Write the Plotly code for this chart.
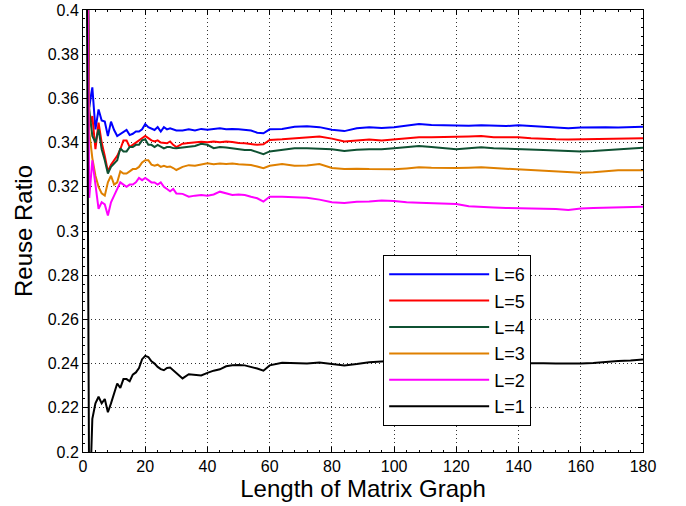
import plotly.graph_objects as go

# x positions (length of matrix graph)
x_early = list(range(1, 31))
x_mid = list(range(32, 61, 2))
x_late = list(range(64, 181, 4))
x_vals = x_early + x_mid + x_late

l6 = [0.5, 0.356, 0.365, 0.346, 0.355, 0.350, 0.3495, 0.343, 0.3495, 0.3457,
      0.343, 0.344, 0.345, 0.3457, 0.3434, 0.344, 0.345, 0.345, 0.346, 0.3484,
      0.347, 0.3465, 0.3457, 0.347, 0.345, 0.347, 0.346, 0.3465, 0.346, 0.3455,
      0.3455, 0.346, 0.3455, 0.3462, 0.3458, 0.346, 0.3465, 0.346, 0.3462, 0.346,
      0.3458, 0.3455, 0.3445, 0.3442, 0.346,
      0.3462, 0.3472, 0.3474, 0.347, 0.3458, 0.3452, 0.3465, 0.347, 0.3466, 0.347,
      0.3478, 0.3484, 0.348, 0.3478, 0.3478, 0.3476, 0.3478, 0.3475, 0.3475, 0.3478,
      0.3474, 0.3472, 0.3468, 0.3465, 0.3468, 0.347, 0.347, 0.3468, 0.347, 0.3472]

l5 = [0.5, 0.347, 0.352, 0.337, 0.349, 0.340, 0.334, 0.327, 0.330, 0.332,
      0.334, 0.337, 0.341, 0.341, 0.338, 0.339, 0.340, 0.341, 0.342, 0.343,
      0.342, 0.341, 0.3405, 0.341, 0.340, 0.340, 0.3397, 0.3405, 0.339, 0.338,
      0.3395, 0.3398, 0.3402, 0.3404, 0.3402, 0.3405, 0.3402, 0.3405, 0.3403, 0.3398,
      0.3397, 0.3394, 0.339, 0.3392, 0.3412,
      0.3415, 0.342, 0.3422, 0.3428, 0.3418, 0.3405, 0.341, 0.3414, 0.341, 0.3415,
      0.342, 0.3424, 0.3424, 0.3425, 0.3424, 0.3428, 0.343, 0.3424, 0.3424, 0.3424,
      0.342, 0.3416, 0.3415, 0.3414, 0.3415, 0.3417, 0.3418, 0.342, 0.342, 0.342]

l4 = [0.5, 0.355, 0.343, 0.340, 0.346, 0.337, 0.332, 0.326, 0.329, 0.3306,
      0.332, 0.3374, 0.336, 0.336, 0.338, 0.338, 0.339, 0.339, 0.341, 0.3415,
      0.339, 0.339, 0.338, 0.339, 0.338, 0.3374, 0.338, 0.338, 0.3375, 0.3374,
      0.3378, 0.338, 0.3385, 0.3395, 0.339, 0.3375, 0.338, 0.3378, 0.3374, 0.337,
      0.3367, 0.3366, 0.3358, 0.3348, 0.336,
      0.3368, 0.3374, 0.3375, 0.3372, 0.337, 0.3362, 0.3368, 0.337, 0.337, 0.3375,
      0.338, 0.3385, 0.338, 0.3375, 0.337, 0.3375, 0.3379, 0.3375, 0.3372, 0.337,
      0.3368, 0.3366, 0.3364, 0.3362, 0.336, 0.3362, 0.3366, 0.337, 0.3374, 0.3377]

l3 = [0.5, 0.345, 0.333, 0.325, 0.320, 0.317, 0.316, 0.322, 0.325, 0.321,
      0.322, 0.327, 0.326, 0.326, 0.327, 0.328, 0.328, 0.329, 0.331, 0.332,
      0.332, 0.330, 0.3295, 0.330, 0.329, 0.3295, 0.329, 0.3292, 0.3285, 0.3276,
      0.329, 0.3298, 0.3295, 0.330, 0.3306, 0.3302, 0.3305, 0.3303, 0.3305, 0.3302,
      0.330, 0.3299, 0.3292, 0.3284, 0.3295,
      0.3303, 0.3295, 0.3296, 0.3303, 0.3285, 0.328, 0.3282, 0.328, 0.328, 0.3279,
      0.3283, 0.3288, 0.3286, 0.3284, 0.3285, 0.3286, 0.3288, 0.3285, 0.3282, 0.3279,
      0.3276, 0.3272, 0.327, 0.3266, 0.3264, 0.3266, 0.327, 0.3275, 0.3275, 0.3275]

l2 = [0.5, 0.315, 0.332, 0.320, 0.310, 0.313, 0.312, 0.307, 0.313, 0.316,
      0.319, 0.322, 0.321, 0.320, 0.321, 0.321, 0.322, 0.324, 0.323, 0.324,
      0.323, 0.322, 0.322, 0.321, 0.322, 0.320, 0.319, 0.318, 0.319, 0.317,
      0.3168, 0.3155, 0.316, 0.3163, 0.316, 0.3165, 0.3178, 0.317, 0.3163, 0.3165,
      0.3163, 0.3155, 0.3148, 0.3133, 0.3155,
      0.3155, 0.3152, 0.315, 0.3142, 0.313, 0.3127, 0.3132, 0.3133, 0.3138, 0.3136,
      0.313, 0.3128, 0.3126, 0.3124, 0.3122, 0.3112, 0.3108, 0.3106, 0.3104, 0.3103,
      0.3103, 0.3102, 0.310, 0.3095, 0.3102, 0.3104, 0.3106, 0.3107, 0.3108, 0.311]

l1 = [0.5, 0.17, 0.215, 0.222, 0.225, 0.222, 0.224, 0.218, 0.222, 0.227,
      0.231, 0.229, 0.233, 0.233, 0.232, 0.235, 0.236, 0.238, 0.242, 0.2435,
      0.243, 0.241, 0.240, 0.2385, 0.2375, 0.237, 0.238, 0.2382, 0.237, 0.2355,
      0.2333, 0.2352, 0.2348, 0.2346, 0.2358, 0.2368, 0.2374, 0.2388, 0.2392, 0.2394,
      0.2392, 0.2386, 0.2378, 0.2368, 0.2392,
      0.2404, 0.2402, 0.2401, 0.2405, 0.240, 0.2392, 0.2398, 0.2406, 0.241, 0.2413,
      0.241, 0.2408, 0.2405, 0.2403, 0.2403, 0.2402, 0.2402, 0.240, 0.2401, 0.2402,
      0.2403, 0.2402, 0.2401, 0.240, 0.2401, 0.2403, 0.2408, 0.2412, 0.2414, 0.2419]

series_names = ["L=6", "L=5", "L=4", "L=3", "L=2", "L=1"]
series_vals = [l6, l5, l4, l3, l2, l1]
series_colors = ["#0000FF", "#FF0000", "#0F5132", "#DF8000", "#FF00FF", "#000000"]

x_ticks = list(range(0, 181, 20))
y_ticks = [0.2, 0.22, 0.24, 0.26, 0.28, 0.3, 0.32, 0.34, 0.36, 0.38, 0.4]

fig = go.Figure()
for name, vals, col in zip(series_names, series_vals, series_colors):
    fig.add_trace(go.Scatter(x=x_vals, y=vals, mode="lines", name=name,
                             legendgroup=name,
                             line=dict(color=col, width=2)))

font_family = "Liberation Sans, Arial, sans-serif"
axis_common = dict(
    showline=True, linecolor="black", linewidth=1, mirror="ticks",
    ticks="inside", ticklen=5, tickcolor="black",
    showgrid=True, gridcolor="#333", griddash="1px,3px", gridwidth=1,
    zeroline=False, automargin=False,
    tickfont=dict(family=font_family, size=16, color="black"),
)

fig.update_xaxes(range=[0, 180], tickvals=x_ticks,
                 title=dict(text="Length of Matrix Graph",
                            font=dict(family=font_family, size=24, color="black"),
                            standoff=2),
                 minor=dict(ticks="inside", ticklen=2, dtick=4, tickcolor="black"),
                 **axis_common)
fig.update_yaxes(range=[0.2, 0.4], tickvals=y_ticks,
                 ticktext=[("%g" % v) for v in y_ticks],
                 title=dict(text="Reuse Ratio",
                            font=dict(family=font_family, size=24, color="black"),
                            standoff=8),
                 minor=dict(ticks="inside", ticklen=2, dtick=0.004, tickcolor="black"),
                 **axis_common)

fig.update_layout(
    width=686, height=506,
    margin=dict(l=83, r=43, t=10, b=54),
    paper_bgcolor="white", plot_bgcolor="white",
    showlegend=True,
    legend=dict(x=0.536, y=0.4457, xanchor="left", yanchor="top",
                bgcolor="white", bordercolor="black", borderwidth=1,
                font=dict(family=font_family, size=18, color="black"),
                itemwidth=100, tracegroupgap=0,
                entrywidthmode="pixels", entrywidth=72),
)

fig.write_html("out.html",
               config={"displayModeBar": False},
               post_script="document.body.style.margin='0';document.body.style.overflow='hidden';")
